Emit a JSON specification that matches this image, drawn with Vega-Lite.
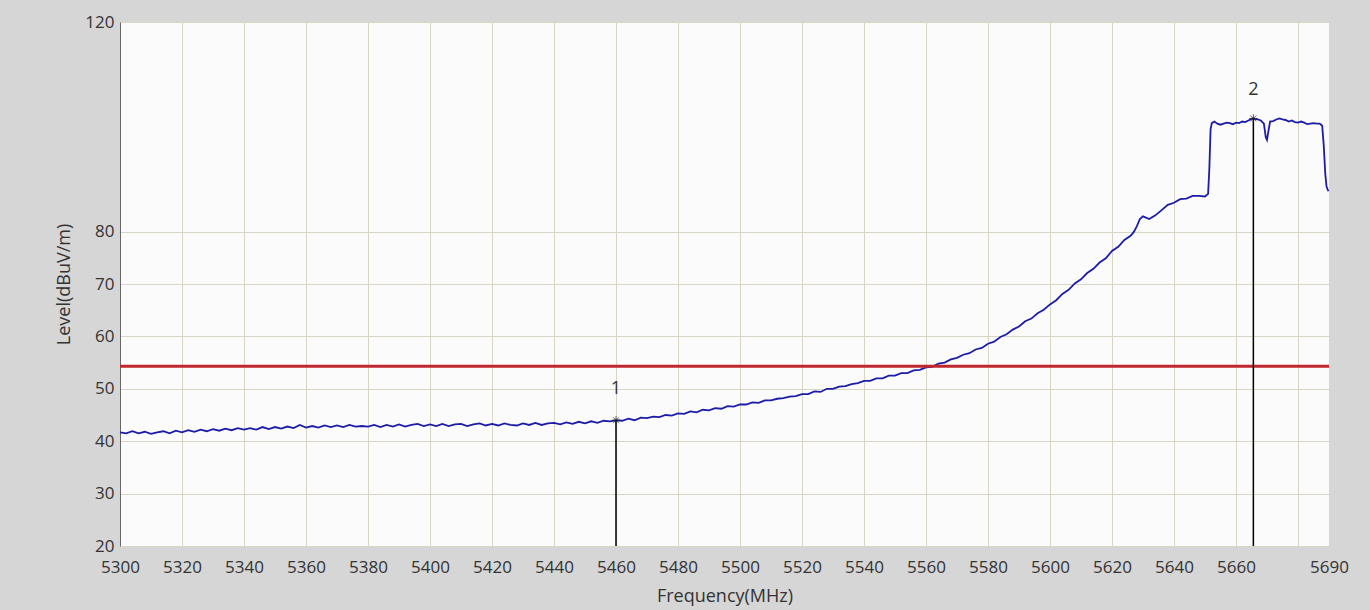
{
  "$schema": "https://vega.github.io/schema/vega-lite/v6.json",
  "width": 1209,
  "height": 524,
  "autosize": {"type": "none"},
  "padding": {"left": 120, "top": 22, "right": 41, "bottom": 64},
  "background": "#d6d6d6",
  "config": {
    "view": {"fill": "#fbfbfb", "stroke": "#a8a8a8", "strokeWidth": 1},
    "font": "Open Sans"
  },
  "datasets": {
    "curve": [
      {"f":5300,"v":41.7},{"f":5302,"v":41.5},{"f":5304,"v":41.9},{"f":5306,"v":41.5},{"f":5308,"v":41.8},
      {"f":5310,"v":41.4},{"f":5312,"v":41.7},{"f":5314,"v":41.9},{"f":5316,"v":41.5},{"f":5318,"v":42.0},
      {"f":5320,"v":41.7},{"f":5322,"v":42.1},{"f":5324,"v":41.8},{"f":5326,"v":42.2},{"f":5328,"v":41.9},
      {"f":5330,"v":42.3},{"f":5332,"v":42.0},{"f":5334,"v":42.4},{"f":5336,"v":42.1},{"f":5338,"v":42.5},
      {"f":5340,"v":42.2},{"f":5342,"v":42.5},{"f":5344,"v":42.2},{"f":5346,"v":42.7},{"f":5348,"v":42.3},
      {"f":5350,"v":42.7},{"f":5352,"v":42.4},{"f":5354,"v":42.8},{"f":5356,"v":42.5},{"f":5358,"v":43.1},
      {"f":5360,"v":42.6},{"f":5362,"v":42.9},{"f":5364,"v":42.6},{"f":5366,"v":43.0},{"f":5368,"v":42.7},
      {"f":5370,"v":43.0},{"f":5372,"v":42.7},{"f":5374,"v":43.1},{"f":5376,"v":42.8},{"f":5378,"v":42.9},
      {"f":5380,"v":42.8},{"f":5382,"v":43.1},{"f":5384,"v":42.7},{"f":5386,"v":43.1},{"f":5388,"v":42.8},
      {"f":5390,"v":43.2},{"f":5392,"v":42.8},{"f":5394,"v":43.1},{"f":5396,"v":43.3},{"f":5398,"v":42.9},
      {"f":5400,"v":43.2},{"f":5402,"v":42.9},{"f":5404,"v":43.3},{"f":5406,"v":42.9},{"f":5408,"v":43.2},
      {"f":5410,"v":43.3},{"f":5412,"v":42.9},{"f":5414,"v":43.2},{"f":5416,"v":43.4},{"f":5418,"v":43.0},
      {"f":5420,"v":43.3},{"f":5422,"v":43.0},{"f":5424,"v":43.4},{"f":5426,"v":43.1},{"f":5428,"v":43.0},
      {"f":5430,"v":43.4},{"f":5432,"v":43.1},{"f":5434,"v":43.5},{"f":5436,"v":43.1},{"f":5438,"v":43.4},
      {"f":5440,"v":43.5},{"f":5442,"v":43.2},{"f":5444,"v":43.6},{"f":5446,"v":43.3},{"f":5448,"v":43.7},
      {"f":5450,"v":43.4},{"f":5452,"v":43.8},{"f":5454,"v":43.5},{"f":5456,"v":43.9},{"f":5458,"v":43.8},
      {"f":5460,"v":44.0},{"f":5462,"v":43.9},{"f":5464,"v":44.3},{"f":5466,"v":44.0},{"f":5468,"v":44.5},
      {"f":5470,"v":44.4},{"f":5472,"v":44.7},{"f":5474,"v":44.6},{"f":5476,"v":45.0},{"f":5478,"v":44.9},
      {"f":5480,"v":45.3},{"f":5482,"v":45.2},{"f":5484,"v":45.7},{"f":5486,"v":45.5},{"f":5488,"v":46.0},
      {"f":5490,"v":45.9},{"f":5492,"v":46.3},{"f":5494,"v":46.2},{"f":5496,"v":46.7},{"f":5498,"v":46.6},
      {"f":5500,"v":47.0},{"f":5502,"v":47.0},{"f":5504,"v":47.4},{"f":5506,"v":47.3},{"f":5508,"v":47.8},
      {"f":5510,"v":47.8},{"f":5512,"v":48.1},{"f":5514,"v":48.2},{"f":5516,"v":48.5},{"f":5518,"v":48.6},
      {"f":5520,"v":49.0},{"f":5522,"v":49.0},{"f":5524,"v":49.5},{"f":5526,"v":49.4},{"f":5528,"v":50.0},
      {"f":5530,"v":50.0},{"f":5532,"v":50.4},{"f":5534,"v":50.5},{"f":5536,"v":50.9},{"f":5538,"v":51.1},
      {"f":5540,"v":51.5},{"f":5542,"v":51.5},{"f":5544,"v":52.0},{"f":5546,"v":52.0},{"f":5548,"v":52.5},
      {"f":5550,"v":52.5},{"f":5552,"v":53.0},{"f":5554,"v":53.0},{"f":5556,"v":53.5},{"f":5558,"v":53.6},
      {"f":5560,"v":54.1},{"f":5562,"v":54.2},{"f":5564,"v":54.8},{"f":5566,"v":55.0},{"f":5568,"v":55.6},
      {"f":5570,"v":55.9},{"f":5572,"v":56.5},{"f":5574,"v":56.8},{"f":5576,"v":57.5},{"f":5578,"v":57.8},
      {"f":5580,"v":58.6},{"f":5582,"v":59.0},{"f":5584,"v":59.9},{"f":5586,"v":60.4},{"f":5588,"v":61.3},
      {"f":5590,"v":61.9},{"f":5592,"v":62.9},{"f":5594,"v":63.4},{"f":5596,"v":64.4},{"f":5598,"v":65.1},
      {"f":5600,"v":66.1},{"f":5602,"v":66.9},{"f":5604,"v":68.1},{"f":5606,"v":68.9},{"f":5608,"v":70.1},
      {"f":5610,"v":70.9},{"f":5612,"v":72.1},{"f":5614,"v":72.9},{"f":5616,"v":74.1},{"f":5618,"v":74.9},
      {"f":5620,"v":76.3},{"f":5622,"v":77.1},{"f":5624,"v":78.4},{"f":5626,"v":79.2},{"f":5627,"v":79.9},
      {"f":5628,"v":81.0},{"f":5629,"v":82.4},{"f":5630,"v":82.9},{"f":5632,"v":82.4},{"f":5634,"v":83.1},
      {"f":5636,"v":84.1},{"f":5638,"v":85.1},{"f":5640,"v":85.5},{"f":5642,"v":86.2},{"f":5644,"v":86.3},
      {"f":5646,"v":86.8},{"f":5648,"v":86.8},{"f":5650,"v":86.7},{"f":5651,"v":87.2},{"f":5651.4,"v":92.0},
      {"f":5651.8,"v":99.5},{"f":5652.2,"v":100.7},{"f":5653,"v":101.0},{"f":5654,"v":100.6},{"f":5655,"v":100.4},
      {"f":5656,"v":100.6},{"f":5657,"v":100.8},{"f":5658,"v":100.7},{"f":5659,"v":100.5},{"f":5660,"v":100.8},
      {"f":5661,"v":100.7},{"f":5662,"v":101.0},{"f":5663,"v":100.9},{"f":5664,"v":101.2},{"f":5665,"v":101.5},
      {"f":5665.6,"v":101.6},{"f":5666,"v":101.5},{"f":5667,"v":101.4},{"f":5668,"v":101.2},{"f":5669,"v":100.6},
      {"f":5669.6,"v":98.0},{"f":5670,"v":97.5},{"f":5670.4,"v":99.0},{"f":5671,"v":101.0},{"f":5672,"v":101.1},
      {"f":5673,"v":101.4},{"f":5674,"v":101.6},{"f":5675,"v":101.4},{"f":5676,"v":101.3},{"f":5677,"v":101.0},
      {"f":5678,"v":101.2},{"f":5679,"v":100.9},{"f":5680,"v":100.8},{"f":5681,"v":101.0},{"f":5682,"v":100.8},
      {"f":5683,"v":100.5},{"f":5684,"v":100.6},{"f":5685,"v":100.7},{"f":5686,"v":100.6},{"f":5687,"v":100.6},
      {"f":5687.8,"v":100.2},{"f":5688.3,"v":96.5},{"f":5688.8,"v":91.0},{"f":5689.2,"v":88.6},{"f":5689.8,"v":87.7}
    ],
    "markers": [
      {"f": 5460, "v": 44.0, "base": 20, "label": "1", "ly": 50.0},
      {"f": 5665.6, "v": 101.6, "base": 20, "label": "2", "ly": 107.0}
    ],
    "limit": [{"level": 54.3}]
  },
  "encoding": {
    "x": {
      "field": "f", "type": "quantitative",
      "scale": {"domain": [5300, 5690], "nice": false, "zero": false},
      "axis": {
        "title": "Frequency(MHz)",
        "values": [5300,5320,5340,5360,5380,5400,5420,5440,5460,5480,5500,5520,5540,5560,5580,5600,5620,5640,5660,5680,5690],
        "format": "d",
        "labelExpr": "datum.value == 5680 ? '' : datum.label",
        "labelFlush": false, "labelOverlap": false, "labelBound": false,
        "grid": true, "gridColor": "#d9d6c3", "gridOpacity": 1, "gridWidth": 1,
        "ticks": false, "domain": false,
        "labelPadding": 13, "labelFontSize": 17, "labelColor": "#333333", "labelFont": "Open Sans",
        "titleFontSize": 18, "titleFontWeight": "normal", "titleColor": "#333333", "titlePadding": 12, "titleFont": "Open Sans"
      }
    },
    "y": {
      "field": "v", "type": "quantitative",
      "scale": {"domain": [20, 120], "nice": false, "zero": false},
      "axis": {
        "title": "Level(dBuV/m)",
        "values": [20, 30, 40, 50, 60, 70, 80, 120],
        "labelFlush": false, "labelOverlap": false, "labelBound": false,
        "grid": true, "gridColor": "#d9d6c3", "gridOpacity": 1, "gridWidth": 1,
        "ticks": false, "domain": true, "domainColor": "#666666",
        "labelPadding": 6, "labelFontSize": 17, "labelColor": "#333333", "labelFont": "Open Sans",
        "titleFontSize": 18, "titleFontWeight": "normal", "titleColor": "#333333", "titlePadding": 11, "titleFont": "Open Sans"
      }
    }
  },
  "layer": [
    {
      "data": {"name": "curve"},
      "mark": {"type": "line", "color": "#1c1ca8", "strokeWidth": 1.8, "interpolate": "linear"}
    },
    {
      "data": {"name": "limit"},
      "mark": {"type": "rule", "color": "#c0272d", "strokeWidth": 3},
      "encoding": {"y": {"field": "level", "type": "quantitative"}, "x": null}
    },
    {
      "data": {"name": "markers"},
      "mark": {"type": "rule", "color": "#000000", "strokeWidth": 1.5},
      "encoding": {"y": {"field": "base", "type": "quantitative"}, "y2": {"field": "v"}}
    },
    {
      "data": {"name": "markers"},
      "mark": {"type": "point", "shape": "M-1,0L1,0M0,-1L0,1M-0.7,-0.7L0.7,0.7M-0.7,0.7L0.7,-0.7", "size": 70, "stroke": "#222222", "strokeWidth": 1, "filled": false}
    },
    {
      "data": {"name": "markers"},
      "mark": {"type": "text", "fontSize": 18, "color": "#333333", "font": "Open Sans", "baseline": "middle"},
      "encoding": {"y": {"field": "ly", "type": "quantitative"}, "text": {"field": "label"}}
    }
  ]
}
